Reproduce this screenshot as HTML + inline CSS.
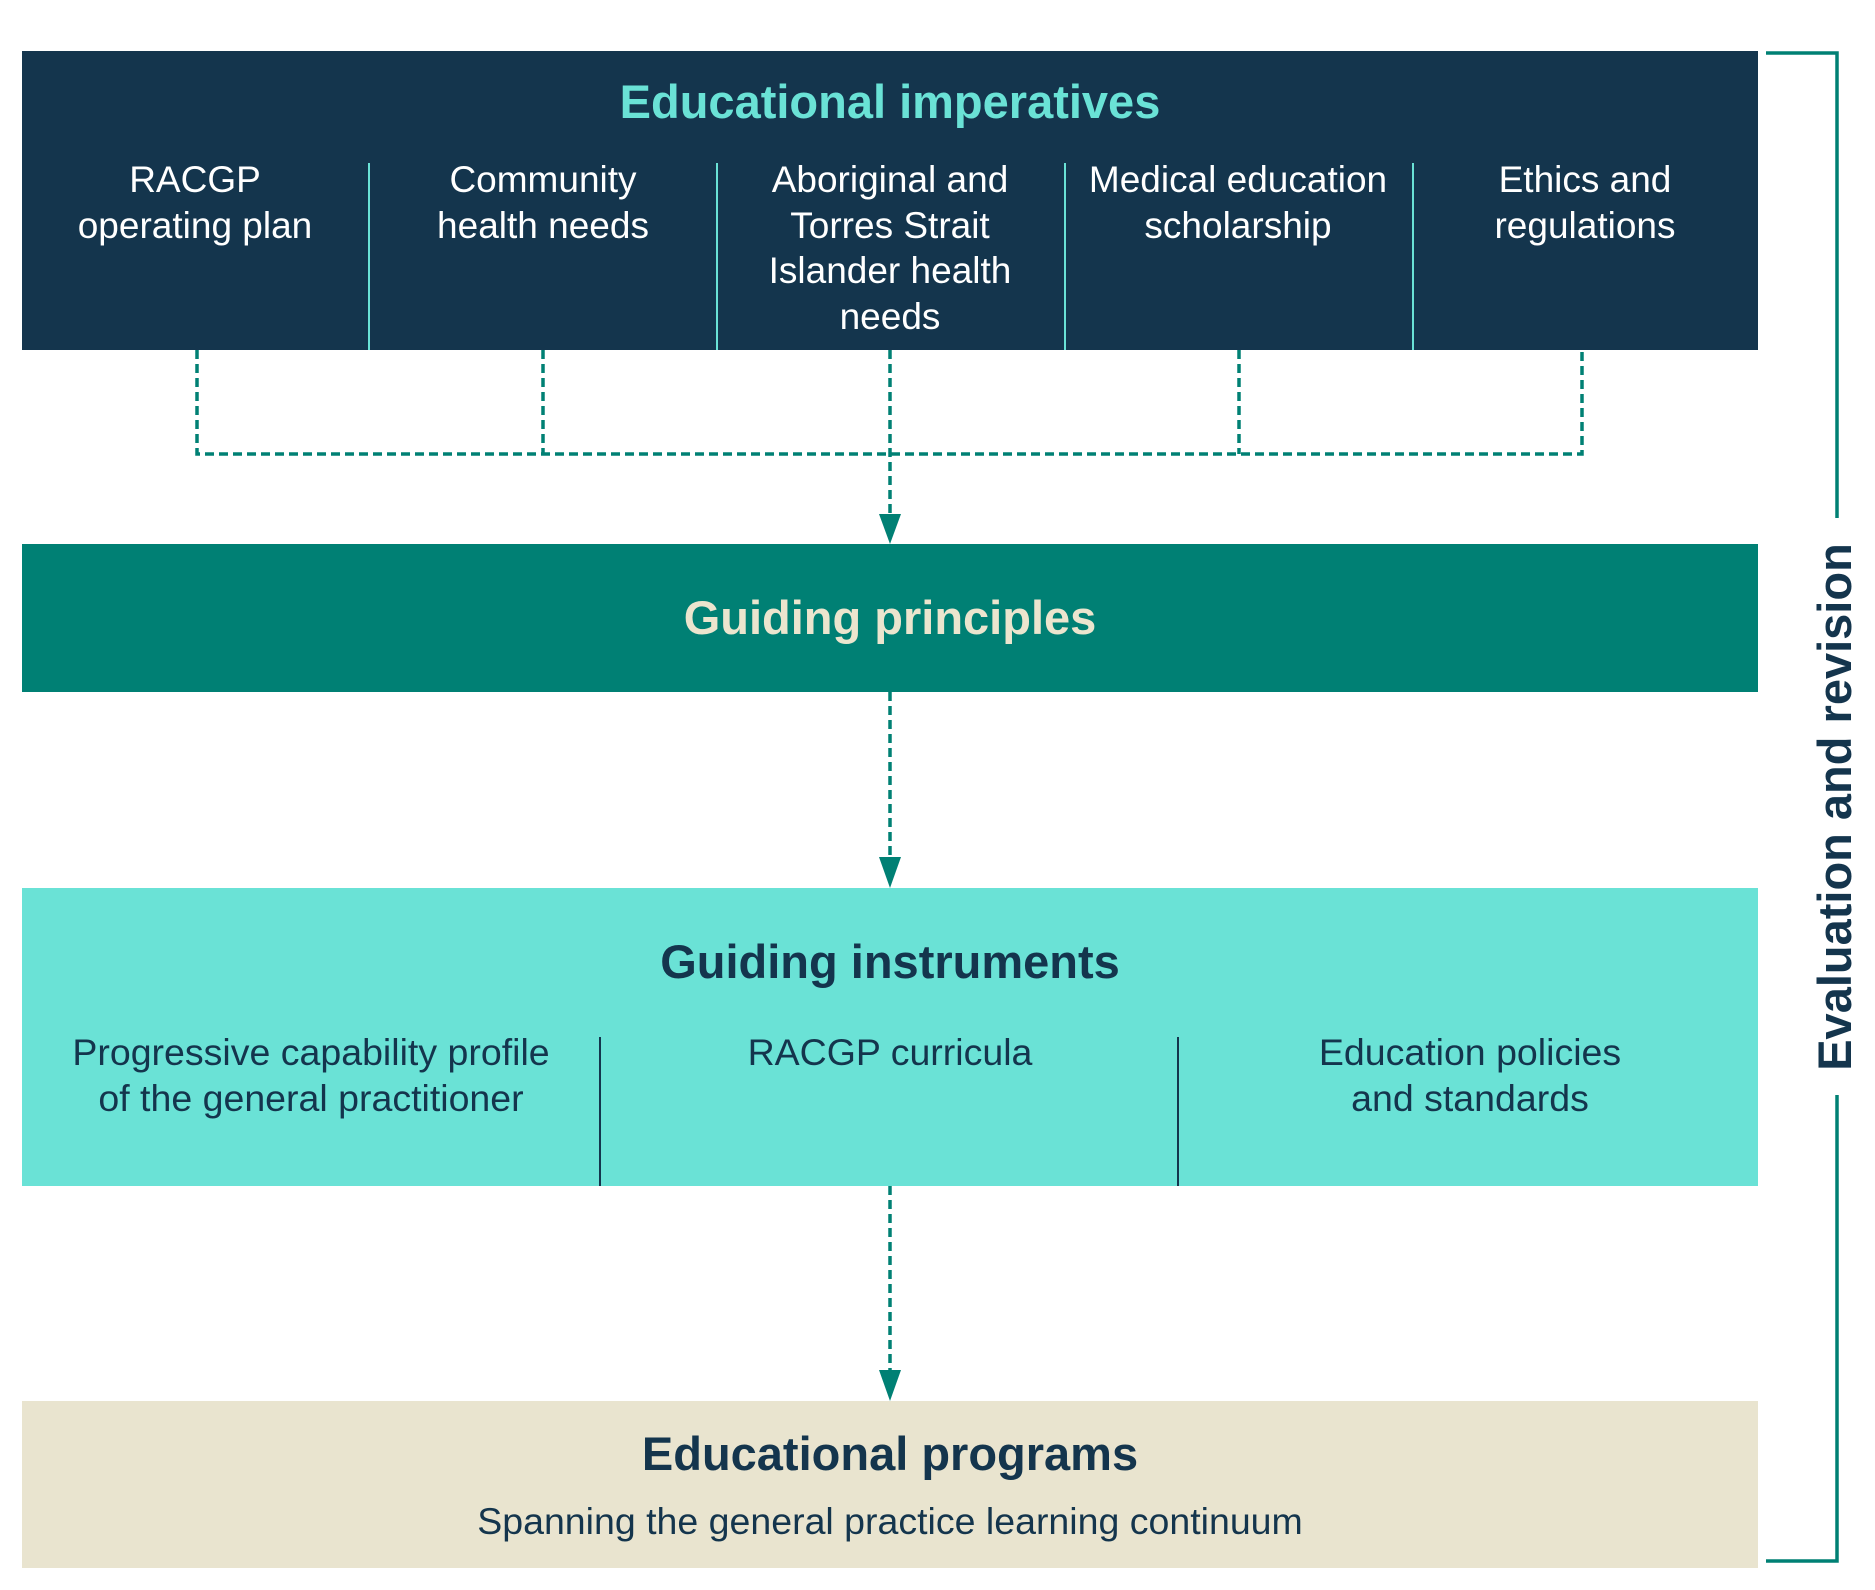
<!DOCTYPE html>
<html><head><meta charset="utf-8"><style>
html,body{margin:0;padding:0;background:#fff;}
svg{display:block;}
text{font-family:"Liberation Sans",sans-serif;}
</style></head><body>
<svg width="1875" height="1590" viewBox="0 0 1875 1590" xmlns="http://www.w3.org/2000/svg">
<rect x="22" y="51" width="1736" height="299" fill="#14354d"/>
<text x="890" y="118" text-anchor="middle" font-size="47" font-weight="bold" fill="#6ae2d6">Educational imperatives</text>
<g stroke="#6ae2d6" stroke-width="2">
<line x1="369" y1="163" x2="369" y2="350"/><line x1="717" y1="163" x2="717" y2="350"/>
<line x1="1065" y1="163" x2="1065" y2="350"/><line x1="1413" y1="163" x2="1413" y2="350"/>
</g>
<g fill="#fff" font-size="37" text-anchor="middle">
<text x="195" y="192">RACGP</text><text x="195" y="238">operating plan</text>
<text x="543" y="192">Community</text><text x="543" y="238">health needs</text>
<text x="890" y="192">Aboriginal and</text><text x="890" y="238">Torres Strait</text><text x="890" y="283">Islander health</text><text x="890" y="329">needs</text>
<text x="1238" y="192">Medical education</text><text x="1238" y="238">scholarship</text>
<text x="1585" y="192">Ethics and</text><text x="1585" y="238">regulations</text>
</g>
<g stroke="#008074" stroke-width="3.5" fill="none" stroke-dasharray="9 5">
<path d="M197 350 V454 H1582 V350"/>
<line x1="543" y1="350" x2="543" y2="454"/>
<line x1="1239" y1="350" x2="1239" y2="454"/>
<line x1="890" y1="350" x2="890" y2="518"/>
<line x1="890" y1="692" x2="890" y2="860"/>
<line x1="890" y1="1186" x2="890" y2="1374"/>
</g>
<g fill="#008074">
<polygon points="879,514 901,514 890,544"/>
<polygon points="879,857 901,857 890,888"/>
<polygon points="879,1370 901,1370 890,1401"/>
</g>
<rect x="22" y="544" width="1736" height="148" fill="#008074"/>
<text x="890" y="634" text-anchor="middle" font-size="47" font-weight="bold" fill="#ebe5ce">Guiding principles</text>
<rect x="22" y="888" width="1736" height="298" fill="#6ae2d6"/>
<text x="890" y="978" text-anchor="middle" font-size="47" font-weight="bold" fill="#14354d">Guiding instruments</text>
<g stroke="#14354d" stroke-width="2">
<line x1="600" y1="1037" x2="600" y2="1186"/><line x1="1178" y1="1037" x2="1178" y2="1186"/>
</g>
<g fill="#14354d" font-size="37.5" text-anchor="middle">
<text x="311" y="1065">Progressive capability profile</text><text x="311" y="1111">of the general practitioner</text>
<text x="890" y="1065">RACGP curricula</text>
<text x="1470" y="1065">Education policies</text><text x="1470" y="1111">and standards</text>
</g>
<rect x="22" y="1401" width="1736" height="167" fill="#e9e4cf"/>
<text x="890" y="1470" text-anchor="middle" font-size="47" font-weight="bold" fill="#14354d">Educational programs</text>
<text x="890" y="1534" text-anchor="middle" font-size="37.5" fill="#14354d">Spanning the general practice learning continuum</text>
<path d="M1766 53 H1837 V518 M1837 1095 V1561 H1766" stroke="#008074" stroke-width="3.5" fill="none"/>
<text transform="translate(1851,807) rotate(-90)" text-anchor="middle" font-size="47" font-weight="bold" fill="#14354d">Evaluation and revision</text>
</svg>
</body></html>
